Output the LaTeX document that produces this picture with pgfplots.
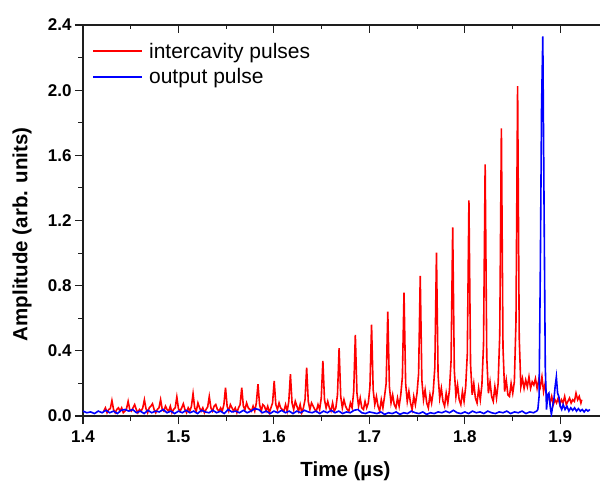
\documentclass[border=0pt]{standalone}
\usepackage{fontspec}
\setmainfont{Liberation Sans}
\usepackage{pgfplots}
\pgfplotsset{compat=1.18}
\definecolor{axcol}{RGB}{30,30,30}
\pgfplotsset{common/.style={
  width=525pt,height=391pt,scale only axis,
  xmin=1.4,xmax=1.95,ymin=0,ymax=2.4,
  xtick={1.4,1.5,1.6,1.7,1.8,1.9},
  ytick={0,0.4,0.8,1.2,1.6,2.0,2.4},
  minor x tick num=1, minor y tick num=1,
  major tick length=8pt, minor tick length=4.5pt,
  every tick/.style={axcol,line width=1.1pt},
  axis line style={axcol,line width=1.1pt},
}}
\begin{document}
\begin{tikzpicture}
\useasboundingbox (-83pt,-66pt) rectangle (517pt,416pt);
\begin{axis}[common,
  tick align=outside,
  xtick pos=bottom, ytick pos=left,
  /pgf/number format/assume math mode=true,
  /pgf/number format/.cd, fixed, fixed zerofill, precision=1, /pgfplots/.cd,
  ticklabel style={font=\fontsize{17}{17}\selectfont\bfseries},
  xticklabel style={yshift=-3pt},
  xlabel={Time (µs)}, ylabel={Amplitude (arb. units)},
  xlabel style={at={(axis description cs:0.5,-0.14)},anchor=center,font=\fontsize{20.5}{20.5}\selectfont\bfseries},
  ylabel style={at={(axis description cs:-0.116,0.465)},anchor=center,rotate=0,font=\fontsize{20.5}{20.5}\selectfont\bfseries},
  legend style={draw=none,fill=none,at={(axis description cs:0.012,0.965)},anchor=north west,
    font=\fontsize{21}{21}\selectfont, row sep=5pt},
  legend cell align=left,
  legend image code/.code={\draw[line width=1.6pt,#1] (0pt,0pt) -- (49pt,0pt); \path (53pt,0pt);},
]
\addlegendimage{red,line width=1.6pt}
\addlegendentry{intercavity pulses}
\addlegendimage{blue,line width=1.6pt}
\addlegendentry{output pulse}
\addplot[red, line width=1.6pt, forget plot] coordinates {
(1.4218,0.03)(1.4235,0.05)(1.4252,0.02)(1.4269,0.04)(1.4286,0.045)(1.4303,0.095)(1.4320,0.04)(1.4337,0.02)(1.4354,0.04)(1.4371,0.05)
(1.4388,0.03)(1.4405,0.05)(1.4422,0.02)(1.4439,0.03)(1.4456,0.045)(1.4473,0.09)(1.4490,0.04)(1.4507,0.03)(1.4524,0.05)(1.4541,0.07)
(1.4558,0.04)(1.4575,0.02)(1.4592,0.04)(1.4609,0.03)(1.4626,0.05)(1.4643,0.10)(1.4660,0.045)(1.4677,0.02)(1.4694,0.05)(1.4711,0.06)
(1.4728,0.075)(1.4745,0.04)(1.4762,0.02)(1.4779,0.04)(1.4796,0.05)(1.4813,0.10)(1.4830,0.04)(1.4847,0.03)(1.4864,0.06)(1.4881,0.04)
(1.4898,0.03)(1.4915,0.06)(1.4932,0.02)(1.4949,0.04)(1.4966,0.05)(1.4983,0.117)(1.5000,0.045)(1.5017,0.03)(1.5034,0.05)(1.5051,0.075)
(1.5068,0.04)(1.5085,0.02)(1.5102,0.05)(1.5119,0.03)(1.5136,0.06)(1.5153,0.137)(1.5170,0.05)(1.5187,0.03)(1.5204,0.08)(1.5221,0.05)
(1.5238,0.03)(1.5255,0.05)(1.5272,0.02)(1.5289,0.04)(1.5306,0.055)(1.5323,0.12)(1.5340,0.05)(1.5357,0.03)(1.5374,0.06)(1.5391,0.07)
(1.5408,0.04)(1.5425,0.03)(1.5442,0.05)(1.5459,0.03)(1.5476,0.07)(1.5493,0.174)(1.5510,0.06)(1.5527,0.03)(1.5544,0.07)(1.5561,0.05)
(1.5578,0.03)(1.5595,0.05)(1.5612,0.02)(1.5629,0.05)(1.5646,0.07)(1.5663,0.174)(1.5680,0.06)(1.5697,0.04)(1.5714,0.08)(1.5731,0.05)
(1.5748,0.04)(1.5765,0.03)(1.5782,0.06)(1.5799,0.03)(1.5816,0.08)(1.5833,0.195)(1.5850,0.07)(1.5867,0.03)(1.5884,0.07)(1.5901,0.06)
(1.5918,0.03)(1.5935,0.06)(1.5952,0.02)(1.5969,0.05)(1.5986,0.08)(1.6003,0.215)(1.6020,0.07)(1.6037,0.04)(1.6054,0.08)(1.6071,0.05)
(1.6088,0.04)(1.6105,0.03)(1.6122,0.07)(1.6139,0.03)(1.6156,0.09)(1.6173,0.256)(1.6190,0.08)(1.6207,0.04)(1.6224,0.09)(1.6241,0.06)
(1.6258,0.03)(1.6275,0.07)(1.6292,0.02)(1.6309,0.05)(1.6326,0.10)(1.6343,0.297)(1.6360,0.09)(1.6377,0.04)(1.6394,0.08)(1.6411,0.06)
(1.6428,0.04)(1.6445,0.03)(1.6462,0.07)(1.6479,0.04)(1.6496,0.11)(1.6513,0.338)(1.6530,0.10)(1.6547,0.05)(1.6564,0.09)(1.6581,0.05)
(1.6598,0.03)(1.6615,0.08)(1.6632,0.03)(1.6649,0.05)(1.6666,0.13)(1.6683,0.416)(1.6700,0.12)(1.6717,0.05)(1.6734,0.10)(1.6751,0.06)
(1.6768,0.04)(1.6785,0.03)(1.6802,0.08)(1.6819,0.05)(1.6836,0.15)(1.6853,0.498)(1.6870,0.14)(1.6887,0.06)(1.6904,0.11)(1.6921,0.05)
(1.6938,0.04)(1.6955,0.09)(1.6972,0.05)(1.6989,0.08)(1.7006,0.18)(1.7023,0.56)(1.7040,0.16)(1.7057,0.07)(1.7074,0.12)(1.7091,0.06)
(1.7108,0.03)(1.7125,0.10)(1.7142,0.05)(1.7159,0.12)(1.7176,0.20)(1.7193,0.64)(1.7210,0.18)(1.7227,0.08)(1.7244,0.13)(1.7261,0.07)
(1.7278,0.05)(1.7295,0.11)(1.7312,0.06)(1.7329,0.13)(1.7346,0.24)(1.7363,0.757)(1.7380,0.20)(1.7397,0.09)(1.7414,0.15)(1.7431,0.08)
(1.7448,0.04)(1.7465,0.12)(1.7482,0.07)(1.7499,0.14)(1.7516,0.26)(1.7533,0.86)(1.7550,0.22)(1.7567,0.10)(1.7584,0.16)(1.7601,0.08)
(1.7618,0.05)(1.7635,0.13)(1.7652,0.08)(1.7669,0.15)(1.7686,0.30)(1.7703,1.003)(1.7720,0.25)(1.7737,0.11)(1.7754,0.17)(1.7771,0.09)
(1.7788,0.06)(1.7805,0.14)(1.7822,0.08)(1.7839,0.16)(1.7856,0.34)(1.7873,1.157)(1.7890,0.28)(1.7907,0.12)(1.7924,0.19)(1.7941,0.10)
(1.7958,0.07)(1.7975,0.15)(1.7992,0.09)(1.8009,0.18)(1.8026,0.38)(1.8043,1.323)(1.8060,0.32)(1.8077,0.13)(1.8094,0.20)(1.8111,0.11)
(1.8128,0.08)(1.8145,0.17)(1.8162,0.10)(1.8179,0.19)(1.8196,0.44)(1.8213,1.545)(1.8230,0.36)(1.8247,0.14)(1.8264,0.21)(1.8281,0.12)
(1.8298,0.09)(1.8315,0.18)(1.8332,0.11)(1.8349,0.20)(1.8366,0.50)(1.8383,1.766)(1.8400,0.42)(1.8417,0.15)(1.8434,0.22)(1.8451,0.13)
(1.8468,0.12)(1.8485,0.20)(1.8502,0.14)(1.8519,0.21)(1.8536,0.58)(1.8553,2.025)(1.8570,0.48)(1.8587,0.18)(1.8604,0.23)(1.8621,0.17)
(1.8638,0.22)(1.8655,0.18)(1.8672,0.24)(1.8689,0.17)(1.8706,0.21)(1.8723,0.19)(1.8740,0.23)(1.8757,0.17)(1.8774,0.22)(1.8791,0.18)
(1.8808,0.24)(1.8825,0.15)(1.8842,0.20)(1.8859,0.11)(1.8876,0.13)(1.8893,0.08)(1.8910,0.12)(1.8927,0.07)(1.8944,0.10)(1.8961,0.08)
(1.8978,0.11)(1.8995,0.07)(1.9012,0.10)(1.9029,0.08)(1.9046,0.12)(1.9063,0.07)(1.9080,0.09)(1.9097,0.11)(1.9114,0.08)(1.9131,0.10)
(1.9148,0.09)(1.9165,0.14)(1.9182,0.10)(1.9199,0.12)(1.9216,0.08)(1.9225,0.10)
};
\addplot[blue, line width=1.6pt, forget plot] coordinates {
(1.400,0.03)(1.404,0.02)(1.408,0.025)(1.412,0.015)(1.416,0.03)(1.420,0.02)(1.424,0.035)(1.428,0.02)(1.432,0.03)(1.436,0.015)
(1.440,0.035)(1.444,0.04)(1.448,0.03)(1.452,0.04)(1.456,0.02)(1.460,0.03)(1.464,0.015)(1.468,0.035)(1.472,0.02)(1.476,0.03)
(1.480,0.025)(1.484,0.04)(1.488,0.02)(1.492,0.03)(1.496,0.015)(1.500,0.03)(1.504,0.02)(1.508,0.035)(1.512,0.02)(1.516,0.03)
(1.520,0.015)(1.524,0.035)(1.528,0.025)(1.532,0.02)(1.536,0.035)(1.540,0.02)(1.544,0.03)(1.548,0.015)(1.552,0.04)(1.556,0.025)
(1.560,0.03)(1.564,0.02)(1.568,0.035)(1.572,0.02)(1.576,0.03)(1.580,0.045)(1.584,0.04)(1.588,0.02)(1.592,0.03)(1.596,0.015)
(1.600,0.03)(1.604,0.02)(1.608,0.035)(1.612,0.02)(1.616,0.03)(1.620,0.015)(1.624,0.03)(1.628,0.02)(1.632,0.035)(1.636,0.025)
(1.640,0.02)(1.644,0.03)(1.648,0.015)(1.652,0.03)(1.656,0.02)(1.660,0.035)(1.664,0.02)(1.668,0.03)(1.672,0.015)(1.676,0.025)
(1.680,0.02)(1.684,0.035)(1.688,0.04)(1.692,0.02)(1.696,0.015)(1.700,0.025)(1.704,0.02)(1.708,0.015)(1.712,0.025)(1.716,0.01)
(1.720,0.02)(1.724,0.015)(1.728,0.025)(1.732,0.01)(1.736,0.02)(1.740,0.015)(1.744,0.03)(1.748,0.02)(1.752,0.015)(1.756,0.025)
(1.760,0.01)(1.764,0.02)(1.768,0.015)(1.772,0.025)(1.776,0.02)(1.780,0.03)(1.784,0.02)(1.788,0.035)(1.792,0.02)(1.796,0.015)
(1.800,0.025)(1.804,0.015)(1.808,0.03)(1.812,0.02)(1.816,0.025)(1.820,0.015)(1.824,0.03)(1.828,0.02)(1.832,0.015)(1.836,0.025)
(1.840,0.02)(1.844,0.03)(1.848,0.015)(1.852,0.025)(1.856,0.02)(1.860,0.03)(1.864,0.015)(1.868,0.025)(1.872,0.02)(1.8752,0.03)
(1.8765,0.04)(1.8778,0.12)(1.8791,0.9)(1.8804,1.9)(1.8817,2.33)(1.8830,1.3)(1.8843,0.3)(1.8856,0.04)(1.8868,0.13)(1.8881,0.14)
(1.8894,0.06)(1.8907,0.01)(1.8920,0.06)(1.8933,0.10)(1.8946,0.18)(1.8959,0.24)(1.8972,0.14)(1.8985,0.12)(1.9000,0.06)(1.9015,0.04)
(1.9030,0.07)(1.9050,0.04)(1.9070,0.06)(1.9090,0.03)(1.9110,0.05)(1.9130,0.035)(1.9150,0.05)(1.9170,0.03)(1.9190,0.045)(1.9210,0.03)
(1.9230,0.04)(1.9250,0.025)(1.9270,0.04)(1.9290,0.03)(1.9310,0.04)
};
\end{axis}
\begin{axis}[common,
  hide y axis, axis x line*=top,
  xtick align=inside, xticklabels={},
  x axis line style={-},
]
\end{axis}
\end{tikzpicture}
\end{document}
